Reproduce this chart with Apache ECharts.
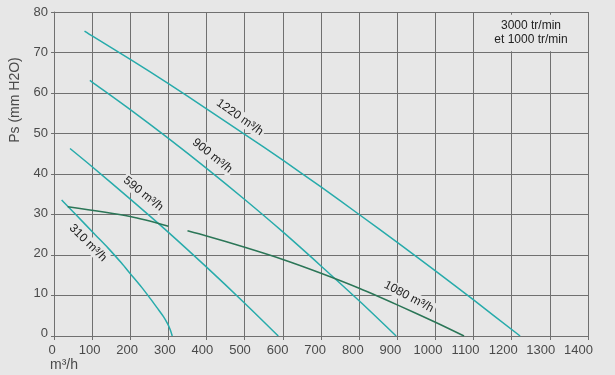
<!DOCTYPE html>
<html><head><meta charset="utf-8">
<script src="https://cdn.jsdelivr.net/npm/echarts@6/dist/echarts.min.js"></script>
<style>html,body{margin:0;padding:0;background:#e7e7e7}#c{width:615px;height:375px}</style>
</head><body><div id="c"></div>
<script>
// ---- data ----
const xTickLabels = ['0','100','200','300','400','500','600','700','800','900','1000','1100','1200','1300','1400'];
const yTickLabels = ['0','10','20','30','40','50','60','70','80'];
const curve1220 = [[80,75.3],[100,74.1],[200,68.3],[300,62.3],[400,56.1],[500,49.8],[600,43.4],[700,36.8],[800,30.0],[900,23.1],[1000,16.1],[1100,8.9],[1222,0]];
const curve900  = [[94,63.1],[100,62.7],[200,55.9],[300,48.8],[400,41.4],[500,33.7],[600,25.7],[700,17.3],[800,8.7],[897,0]];
const curve590  = [[42,46.3],[100,41.8],[200,33.8],[300,25.6],[400,17.0],[500,8.1],[588,0]];
const curve310  = [[20,33.6],[57,30],[108,25],[142,21.7],[177,18],[199,15.5],[230,12],[252,9.3],[270,7],[287,4.8],[298,3],[305,1.5],[310,0]];
const curve1080a = [[36,31.9],[200,29.5],[300,27.1]];
const curve1080b = [[350,26.0],[400,24.7],[500,21.9],[600,18.9],[700,15.5],[800,11.8],[900,7.7],[1000,3.4],[1075,0]];
const curveLabels = [
  {name:'1220 m³/h', coord:[487,54.0], rotate:-35},
  {name:'900 m³/h',  coord:[415,44.5], rotate:-39},
  {name:'590 m³/h',  coord:[234,35.1], rotate:-39},
  {name:'310 m³/h',  coord:[89,23.0],  rotate:-45},
  {name:'1080 m³/h', coord:[930,9.7],  rotate:-28}
];
const speedText = '3000 tr/min\net 1000 tr/min';
const yName = 'Ps (mm H2O)';
const xName = 'm³/h';

const bg = '#e7e7e7';
const teal = '#27abab';
const green = '#2b7657';
const gridColor = '#707070';
const font = 'Liberation Sans, Arial, sans-serif';

function lineSeries(data, color, labelIdx){
  const s = {type:'line', xAxisIndex:0, yAxisIndex:0, data:data, showSymbol:false, smooth:0.3,
    lineStyle:{color:color, width:1.5}, z:3, silent:true};
  if (labelIdx != null){
    const L = curveLabels[labelIdx];
    s.markPoint = {symbol:'circle', symbolSize:0, silent:true, animation:false, z:2,
      data:[{coord:L.coord, value:L.name,
        label:{show:true, position:'inside', formatter:L.name, rotate:L.rotate,
          color:'#222', fontSize:12, fontFamily:font, backgroundColor:bg, padding:[1,2]}}]};
  }
  return s;
}

const chart = echarts.init(document.getElementById('c'), null, {renderer:'canvas'});
chart.setOption({
  animation:false,
  backgroundColor:bg,
  grid:[
    {left:54, right:27, top:12, bottom:39},
    {left:52, right:36.6, top:12.7, bottom:41.7}
  ],
  xAxis:[
    {type:'value', gridIndex:0, min:0, max:1400, interval:100,
     axisLine:{show:true, lineStyle:{color:gridColor, width:1}},
     axisTick:{show:true, length:4, lineStyle:{color:gridColor}},
     axisLabel:{show:false},
     splitLine:{show:true, lineStyle:{color:gridColor, width:1}}},
    {type:'value', gridIndex:1, min:0, max:1400, interval:100,
     axisLine:{show:false}, axisTick:{show:false}, splitLine:{show:false},
     axisLabel:{show:true, margin:11, color:'#4a4a4a', fontSize:13, fontFamily:font,
       formatter:(v)=>xTickLabels[Math.round(v/100)]}}
  ],
  yAxis:[
    {type:'value', gridIndex:0, min:0, max:80, interval:10,
     axisLine:{show:true, lineStyle:{color:gridColor, width:1}},
     axisTick:{show:true, length:3, lineStyle:{color:gridColor}},
     axisLabel:{show:false},
     splitLine:{show:true, lineStyle:{color:gridColor, width:1}}},
    {type:'value', gridIndex:1, min:0, max:80, interval:10,
     axisLine:{show:false}, axisTick:{show:false}, splitLine:{show:false},
     axisLabel:{show:true, margin:4, color:'#4a4a4a', fontSize:13, fontFamily:font,
       formatter:(v)=>yTickLabels[Math.round(v/10)]}}
  ],
  graphic:[
    {type:'text', x:531, y:33, z:10, silent:true,
     style:{text:speedText, fill:'#222', font:'12px '+font, textAlign:'center', textVerticalAlign:'middle', lineHeight:14.3,
       backgroundColor:bg, padding:[4,17]}},
    {type:'text', x:15, y:100, rotation:Math.PI/2, silent:true,
     style:{text:yName, fill:'#4a4a4a', font:'14px '+font, textAlign:'center', textVerticalAlign:'middle'}},
    {type:'text', x:64, y:365, silent:true,
     style:{text:xName, fill:'#4a4a4a', font:'14px '+font, textAlign:'center', textVerticalAlign:'middle'}}
  ],
  series:[
    lineSeries(curve1220, teal, 0),
    lineSeries(curve900, teal, 1),
    lineSeries(curve590, teal, 2),
    lineSeries(curve310, teal, 3),
    lineSeries(curve1080a, green, null),
    lineSeries(curve1080b, green, 4)
  ]
});
</script></body></html>
